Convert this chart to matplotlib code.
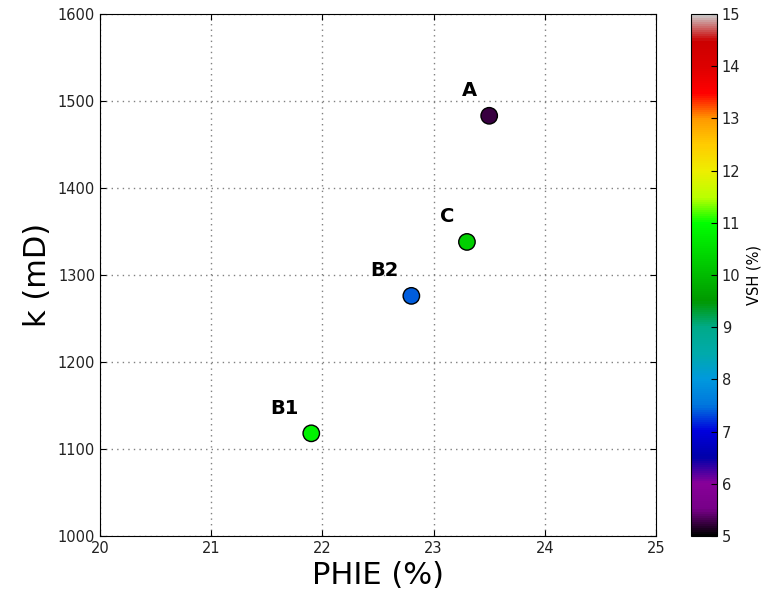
import matplotlib
matplotlib.use('Agg')
import matplotlib.pyplot as plt

names = ['A', 'C', 'B2', 'B1']
phie = [23.5, 23.3, 22.8, 21.9]
perm = [1483, 1338, 1276, 1118]
vsh = [5.25, 10.3, 7.4, 10.8]
cbar_ticks = [5, 6, 7, 8, 9, 10, 11, 12, 13, 14, 15]

fig = plt.figure(figsize=(7.65, 5.98), dpi=100)
ax = fig.add_axes([0.1307, 0.1037, 0.7268, 0.8729])
cax = fig.add_axes([0.9033, 0.1037, 0.034, 0.8729])

sc = ax.scatter(phie, perm, c=vsh, cmap='nipy_spectral', vmin=5, vmax=15,
                s=140, edgecolors='black', linewidths=1, zorder=3)

# point labels, up and to the left of each marker
for name, x, y in zip(names, phie, perm):
    ax.annotate(name, (x, y), xytext=(-9, 18), textcoords='offset points',
                ha='right', va='center', fontsize=14, fontweight='bold')

ax.set_xlim(20, 25)
ax.set_ylim(1000, 1600)
ax.set_xlabel('PHIE (%)', fontsize=22)
ax.set_ylabel('k (mD)', fontsize=22)
ax.grid(True, linestyle=(0, (1, 3)), color='gray', linewidth=1)
ax.set_axisbelow(True)
ax.tick_params(direction='in', top=True, right=True, labelsize=10.5,
               length=4, labelcolor='#222222')

cb = fig.colorbar(sc, cax=cax, ticks=cbar_ticks)
cb.set_label('VSH (%)', fontsize=10.5)
cb.ax.tick_params(direction='in', labelsize=10.5, length=4, labelcolor='#222222')

fig.savefig('out.png', dpi=100)
